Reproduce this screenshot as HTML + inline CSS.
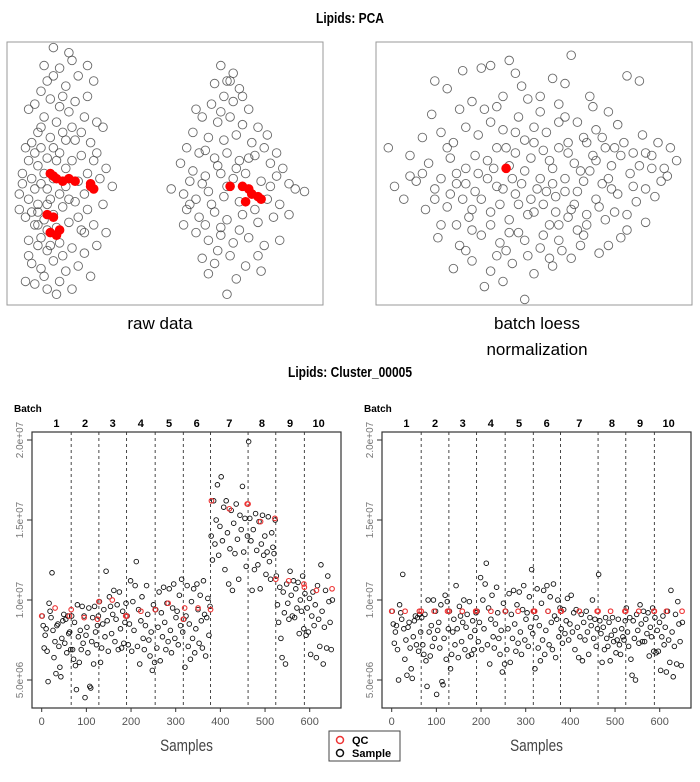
<!DOCTYPE html>
<html><head><meta charset="utf-8"><style>
body{margin:0;background:#fff;width:700px;height:777px;overflow:hidden}
svg text{font-family:"Liberation Sans Narrow","Liberation Sans",sans-serif}
.t{font-weight:bold}
</style></head><body>
<svg id="s" width="700" height="777" viewBox="0 0 700 777" xmlns="http://www.w3.org/2000/svg">
<text class="t" x="350" y="23" text-anchor="middle" font-size="15" transform="translate(350 0) scale(0.8 1) translate(-350 0)">Lipids:  PCA</text>
<rect x="7" y="42" width="316" height="263" fill="none" stroke="#999" stroke-width="1"/>
<rect x="376" y="42" width="316" height="263" fill="none" stroke="#999" stroke-width="1"/>
<text x="160" y="329" text-anchor="middle" font-size="17" style="font-family:'Liberation Sans',sans-serif">raw data</text>
<text x="537" y="329" text-anchor="middle" font-size="17" style="font-family:'Liberation Sans',sans-serif">batch loess</text>
<text x="537" y="355" text-anchor="middle" font-size="17" style="font-family:'Liberation Sans',sans-serif">normalization</text>
<text class="t" x="350" y="377" text-anchor="middle" font-size="15" transform="translate(350 0) scale(0.8 1) translate(-350 0)">Lipids:  Cluster_00005</text>
<g id="pcaL"></g><g id="pcaR"></g><g id="cL"></g><g id="cR"></g>
<g>
<rect x="329" y="731" width="71" height="30" fill="#fff" stroke="#444" stroke-width="1"/>
<circle cx="340" cy="740" r="3.5" fill="none" stroke="#e33" stroke-width="1.5"/>
<circle cx="340" cy="753" r="3.5" fill="none" stroke="#111" stroke-width="1.5"/>
<text class="t" x="352" y="744" font-size="11">QC</text>
<text class="t" x="352" y="757" font-size="11">Sample</text>
</g>
</svg>
<script>
// ---- PCA data (arbitrary PC units 0-100) ----
const pcaRawPC1=[14,12,16,20,10,8,13,18,22,25,6,11,15,19,24,28,30,9,13,17,21,26,5,8,12,16,20,23,27,31,4,7,10,14,18,22,29,33,3,6,9,13,17,21,25,30,5,8,11,15,19,23,27,31,6,9,12,16,20,24,28,7,10,14,18,22,26,8,12,15,5,10,14,18,10,16,12,20,24,7,
9,11,6,8,12,16,7,10,14,18,15,4,9,13,17,11,6,19,22,25,28,23,17,21,14,11,19,25,27,9,12,16,20,24,3,
68,70,72,66,74,69,65,72,77,62,67,71,75,80,59,64,69,73,78,82,57,61,66,70,74,79,84,88,55,59,63,68,72,76,81,86,90,52,56,60,64,69,74,78,83,92,95,57,61,66,70,75,80,85,60,64,68,72,77,82,87,62,66,71,76,81,64,73,70,58,
63,67,70,62,65,73,77,84,79,68,63,74,71,75,68,60,83,87,58,80,67,56,90,86];
const pcaRawPC2=[99,86,91,94,82,77,79,84,88,80,75,72,70,74,72,70,68,66,64,66,63,62,60,58,56,58,55,57,55,52,50,48,46,48,45,47,48,45,42,40,38,40,37,39,36,38,33,30,32,29,31,28,30,27,24,22,20,23,21,19,22,15,13,16,12,14,10,7,5,3,8,25,34,52,60,76,44,68,42,35,
53,50,55,44,38,42,62,68,60,63,55,46,30,22,18,10,18,40,33,50,58,66,80,78,88,92,97,92,86,35,28,8,5,27,36,
92,86,89,85,83,80,77,78,75,72,70,72,69,68,66,64,63,65,62,60,60,58,56,58,55,57,54,52,54,51,49,50,48,50,47,49,46,44,42,40,43,41,39,42,40,44,43,36,33,35,32,34,31,33,27,24,26,23,25,22,24,17,15,18,14,12,11,9,3,38,
59,53,45,46,38,52,56,45,36,29,30,28,86,80,74,75,65,38,47,18,20,30,34,58];
const pcaRawQC1=[13,14,15,17,19,21,26,27,26,12,14,13,15,16,71,75,77,78,80,81,76];
const pcaRawQC2=[50,49,48,47,48,47,45,44,46,34,33,27,26,28,45,45,44,42,41,40,39];
const pcaNormPC1=[62,27,33,36,42,44,22,18,48,56,60,69,80,84,17,26,30,38,45,52,58,64,70,77,14,20,24,32,40,47,54,61,66,73,79,86,90,94,3,10,16,23,28,35,42,49,56,63,68,75,81,88,93,96,12,18,25,31,38,44,51,57,64,70,77,83,89,8,15,22,29,36,42,48,55,61,67,73,80,86,19,26,33,39,45,52,58,65,71,78,24,30,36,43,50,56,62,47,34,40,20,27,35,41,50,58,66,72,60,53,46,39,31,25,44,62,69,76,82,14,53,36,30,49,57,64,41,85,91,5,10,74,58,
20,23,28,33,37,43,47,52,56,60,65,70,74,78,84,32,38,44,50,55,61,67,72,40,45,50,54,58,63,67,71,75,36,42,47,53,59,66,30,25,18,22,28,34,40,46,52,60,68,76,82,88,92,86,80,74,55,48,38,28];
const pcaNormPC2=[96,90,91,92,94,89,83,86,79,87,85,76,88,86,73,75,78,76,72,74,77,70,67,69,64,66,62,65,67,63,66,62,64,60,62,58,62,60,60,57,54,56,52,55,53,56,52,54,51,53,50,52,49,55,47,44,46,43,45,42,44,41,43,40,42,39,41,40,36,37,33,35,32,34,30,33,30,32,28,31,25,22,26,23,27,21,24,22,19,25,13,16,12,15,11,14,17,1,6,8,30,40,48,60,68,60,47,46,48,38,46,38,57,50,58,36,57,35,45,50,59,70,28,40,35,28,20,65,47,45,49,74,70,
48,42,46,40,52,48,51,48,46,43,51,55,48,57,53,50,60,66,62,55,58,62,64,44,38,35,43,30,38,34,37,44,30,27,24,26,20,26,36,30,40,60,68,75,80,84,80,72,80,60,58,57,52,44,34,22,17,18,18,20];
const pcaNormQC1=[41];
const pcaNormQC2=[52];

// ---- Cluster_00005 data (intensity, x1e6) ----
const batchBounds=[66,128,190,254,317,378,462,524,588];
const batchStarts=[0,66,128,190,254,317,378,462,524,588];
const batchEnds=[66,128,190,254,317,378,462,524,588,652];
const batchLabels=["1","2","3","4","5","6","7","8","9","10"];
const batchLabelPos=[33,97,159,222,285,347,420,493,556,620];
const xTicks=[0,100,200,300,400,500,600];
const yTicks=[5,10,15,20];
const yTickLabels=["5.0e+06","1.0e+07","1.5e+07","2.0e+07"];
const rawBatch=[
[9.0,8.4,7.0,7.8,8.2,6.8,4.9,9.8,9.3,8.9,11.7,8.1,6.4,7.4,5.4,8.4,8.5,7.1,5.8,5.2,7.6,8.7,9.1,7.3,8.8,6.7,9.0,7.9,8.0,6.9],
[9.0,6.9,6.3,8.6,5.9,4.4,9.7,7.7,6.1,8.1,6.9,9.6,7.3,9.0,3.9,7.8,8.3,6.7,9.5,4.6,4.5,7.4,8.9,6.0,9.6,8.0,7.2,8.4,9.0],
[9.9,6.1,7.0,8.5,9.4,7.7,11.8,8.7,6.8,10.2,9.6,7.9,9.1,10.6,7.4,8.8,9.7,6.9,10.5,8.2,7.0,9.3,7.3,8.6,9.8],
[9.0,7.2,8.5,11.2,6.8,9.9,8.1,10.9,12.4,7.1,9.4,6.0,8.7,10.2,7.6,6.9,8.4,10.9,9.1,7.5,6.5,8.0,5.6,9.7,6.1],
[9.4,7.0,8.3,10.5,6.2,9.2,7.7,10.8,8.6,6.9,9.8,7.4,10.7,8.1,6.7,9.5,11.0,7.6,8.9,9.3,7.2,10.3,8.4,11.3,8.0],
[8.8,5.8,9.0,10.9,7.1,8.5,6.3,9.9,7.6,10.7,6.7,8.2,11.0,9.4,7.3,10.3,8.7,7.0,11.2,9.1,6.5,8.9,10.1,7.8,9.6],
[14.0,12.5,16.2,13.5,15.0,17.2,12.8,14.6,17.7,13.7,15.8,11.9,16.2,14.2,11.0,13.2,15.6,10.6,14.8,12.9,16.0,13.8,11.3,15.3,14.4,17.1,13.0,15.1,12.1,14.0],
[19.9,15.1,13.7,10.6,14.4,11.9,15.4,13.1,12.2,14.9,10.7,13.5,15.3,12.8,14.0,11.6,13.0,15.2,12.4,11.3,14.2,13.3,12.9,15.0],
[11.5,9.7,8.6,10.8,7.6,6.4,10.5,9.2,6.0,11.0,9.8,8.8,11.8,10.3,9.0,11.2,8.9,10.7,9.5,11.1,7.9,10.0,9.3,11.5,8.2],
[10.4,7.8,9.5,8.0,10.1,6.6,9.0,10.5,8.4,9.7,6.4,10.9,8.8,7.1,12.2,9.3,6.0,8.3,10.6,7.0,11.5,9.9,8.6,6.9,10.0]];
const normBatch=[
[9.3,8.5,7.3,8.0,8.4,6.9,5.0,9.7,9.2,8.8,11.6,8.2,6.3,7.5,5.3,8.3,8.6,7.0,5.7,5.1,7.7,8.7,9.0,7.2,8.9,6.8,9.1,8.0],
[8.9,7.2,6.6,9.1,6.2,4.6,10.0,8.0,6.5,8.4,7.1,10.0,7.6,9.3,4.1,8.1,8.6,7.0,9.7,4.9,4.7,7.6,10.3,6.3,9.9,8.2],
[9.3,5.7,6.6,8.0,8.8,7.2,10.9,8.2,6.4,9.6,9.0,7.4,8.6,10.0,6.9,8.3,9.1,6.5,9.9,7.7,6.6,8.7,6.9,8.1,9.2],
[9.3,7.4,8.6,11.4,6.9,10.0,8.2,11.0,12.3,7.2,9.5,6.0,8.8,10.3,7.7,7.0,8.5,10.8,9.2,7.6,6.6,8.1,5.5,9.8,6.0],
[9.3,6.9,8.2,10.4,6.1,9.1,7.6,10.6,8.5,6.8,9.7,7.3,10.5,8.0,6.6,9.4,10.9,7.5,8.8,9.2,7.1,10.2,8.3,11.9,7.9],
[9.3,5.7,8.9,10.7,7.0,8.4,6.2,9.8,7.5,10.6,6.6,8.1,10.9,9.3,7.2,10.2,8.6,6.9,11.0,9.0,6.4,8.8,10.0,7.7,9.5],
[8.2,7.3,9.4,7.9,8.7,10.1,7.5,8.5,10.3,8.0,9.2,6.9,9.4,8.3,6.4,7.7,9.1,6.2,8.6,7.5,9.3,8.0,6.6,8.9,8.4,10.0,7.6,8.8,7.1,8.2],
[11.6,8.7,7.9,6.1,8.3,6.9,8.9,7.6,7.1,8.6,6.2,7.8,8.9,7.4,8.1,6.7,7.5,8.8,7.2,6.6,8.2,7.7,7.5,8.7],
[9.5,8.0,7.1,8.9,6.3,5.3,8.7,7.6,5.0,9.1,8.1,7.3,9.7,8.5,7.4,9.3,7.4,8.8,7.9,9.2,6.5,8.3,7.7,9.5,6.8],
[8.9,6.7,8.1,6.8,8.6,5.6,7.7,9.0,7.2,8.3,5.5,9.3,7.5,6.1,10.6,8.0,5.2,7.1,9.1,6.0,9.9,8.5,7.4,5.9,8.6]];
const qcSamples=[0,30,62,66,95,125,128,158,188,190,222,254,283,317,320,350,378,380,420,460,462,490,522,524,553,587,588,615,650];
const qcRaw=[9.0,9.5,9.0,9.4,8.9,8.8,9.9,10.0,9.0,9.0,9.3,9.4,9.8,8.8,9.5,9.5,9.4,16.2,15.7,16.0,16.0,14.9,15.1,11.3,11.2,11.0,10.8,10.6,10.7];
const qcNorm=[9.3,9.3,9.3,9.3,9.3,9.3,9.3,9.3,9.3,9.3,9.3,9.3,9.3,9.3,9.3,9.3,9.3,9.3,9.3,9.3,9.3,9.3,9.3,9.3,9.3,9.3,9.3,9.3,9.3];

const NS="http://www.w3.org/2000/svg";
function mk(tag,attrs,parent){const e=document.createElementNS(NS,tag);for(const k in attrs)e.setAttribute(k,attrs[k]);parent.appendChild(e);return e;}

function pca(gid,x0,x1,y0,y1,p1,p2,q1,q2,name){
  const g=document.getElementById(gid);
  
  
  const sx=v=>x0+v/100*(x1-x0), sy=v=>y1-v/100*(y1-y0);
  for(let i=0;i<p1.length;i++){
    const c=mk('circle',{cx:sx(p1[i]),cy:sy(p2[i]),r:4.3,fill:'none',stroke:'#444','stroke-opacity':0.8,'stroke-width':0.9},g);
    
    
  }
  for(let i=0;i<q1.length;i++){
    const c=mk('circle',{cx:sx(q1[i]),cy:sy(q2[i]),r:4.3,fill:'#f00',stroke:'#f00'},g);
    
    
  }
}
pca('pcaL',10,320,45,302,pcaRawPC1,pcaRawPC2,pcaRawQC1,pcaRawQC2,'pca-raw-plot');
pca('pcaR',379,689,45,302,pcaNormPC1,pcaNormPC2,pcaNormQC1,pcaNormQC2,'pca-normalized-plot');

function cluster(gid,bx,batches,qc,name){
  const g=document.getElementById(gid);
  
  
  const sx=v=>bx+9.7+v*0.4467, sy=v=>680-(v-5)*16;
  const L=bx, R=bx+309, T=432, B=708;
  const fr=mk('rect',{x:L,y:T,width:R-L,height:B-T,fill:'none',stroke:'#333','stroke-width':1.2},g);
  
  
  batchBounds.forEach(b=>{
    const l=mk('line',{x1:sx(b),x2:sx(b),y1:T,y2:B,stroke:'#333','stroke-dasharray':'3,3','stroke-width':0.9},g);
    
    
  });
  batchLabels.forEach((t,i)=>{
    const e=mk('text',{x:sx(batchLabelPos[i]),y:427,'text-anchor':'middle','font-size':11,'font-weight':'bold'},g);
    e.textContent=t;
    
    
  });
  const bt=mk('text',{x:L-18,y:412,'font-size':10,'font-weight':'bold'},g);
  bt.textContent='Batch';
  
  
  xTicks.forEach(t=>{
    mk('line',{x1:sx(t),x2:sx(t),y1:B,y2:B+4,stroke:'#333'},g);
    const e=mk('text',{x:sx(t),y:B+17,'text-anchor':'middle','font-size':11,fill:'#555'},g);
    e.textContent=t;
    
    
  });
  yTicks.forEach((t,i)=>{
    mk('line',{x1:L-5,x2:L,y1:sy(t),y2:sy(t),stroke:'#333'},g);
    const e=mk('text',{x:0,y:0,'text-anchor':'middle','font-size':10,fill:'#777',transform:`translate(${L-9},${sy(t)}) rotate(-90)`},g);
    e.textContent=yTickLabels[i];
    
    
  });
  const xt=mk('text',{x:(L+R)/2,y:B+43,'text-anchor':'middle','font-size':17,fill:'#444',transform:`translate(${(L+R)/2} 0) scale(0.8 1) translate(${-(L+R)/2} 0)`},g);
  xt.textContent='Samples';
  
  
  batches.forEach((vals,b)=>{
    const s0=batchStarts[b], w=batchEnds[b]-batchStarts[b];
    vals.forEach((v,j)=>{
      const c=mk('circle',{cx:sx(s0+(j+0.5)*w/vals.length),cy:sy(v),r:2.3,fill:'none',stroke:'#111','stroke-width':0.9},g);
      
      
    });
  });
  qcSamples.forEach((s,i)=>{
    const c=mk('circle',{cx:sx(s),cy:sy(qc[i]),r:2.3,fill:'none',stroke:'#e33','stroke-width':1.1},g);
    
    
  });
}
cluster('cL',32,rawBatch,qcRaw,'raw-intensity-plot');
cluster('cR',382,normBatch,qcNorm,'normalized-intensity-plot');
</script>
</body></html>
